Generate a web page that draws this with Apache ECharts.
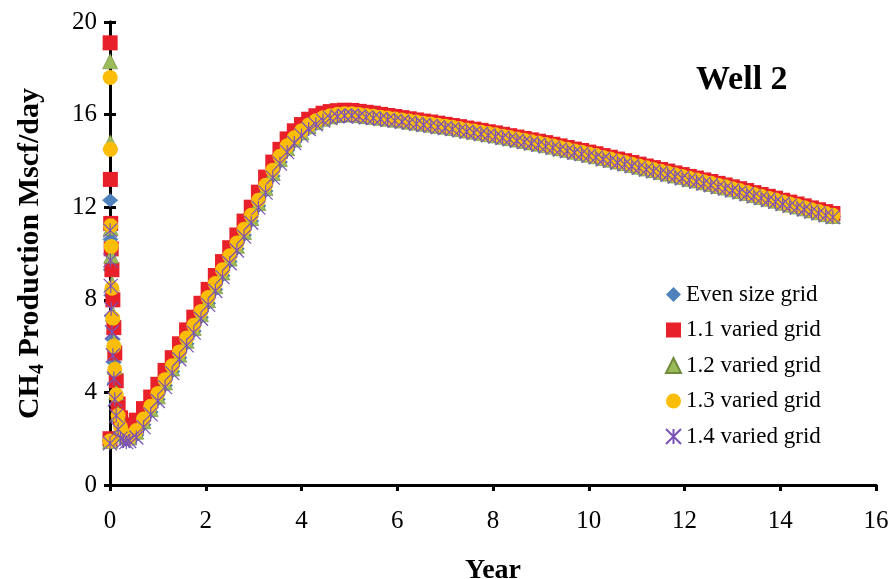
<!DOCTYPE html>
<html>
<head>
<meta charset="utf-8">
<script src="https://cdn.jsdelivr.net/npm/echarts@6/dist/echarts.min.js"></script>
<style>
  html, body { margin: 0; padding: 0; background: #fff; }
  #chart { width: 892px; height: 579px; }
</style>
</head>
<body>
<div id="chart"></div>
<script>
// time in years (dense early steps, then ~55 day steps)
const years = [
  0, 0.003, 0.008, 0.015, 0.025, 0.04, 0.06, 0.08, 0.1, 0.13, 0.17, 0.22, 0.28, 0.34,
  0.40, 0.55, 0.70, 0.85, 1.00, 1.15, 1.30, 1.45, 1.60, 1.75, 1.90, 2.05, 2.20, 2.35, 2.50, 2.65,
  2.80, 2.95, 3.10, 3.25, 3.40, 3.55, 3.70, 3.85, 4.00, 4.15, 4.30, 4.45, 4.60, 4.75, 4.90,
  5.05, 5.20, 5.35, 5.50, 5.65, 5.80, 5.95, 6.10, 6.25, 6.40, 6.55, 6.70, 6.85, 7.00, 7.15,
  7.30, 7.45, 7.60, 7.75, 7.90, 8.05, 8.20, 8.35, 8.50, 8.65, 8.80, 8.95, 9.10, 9.25, 9.40,
  9.55, 9.70, 9.85, 10.00, 10.15, 10.30, 10.45, 10.60, 10.75, 10.90, 11.05, 11.20, 11.35, 11.50,
  11.65, 11.80, 11.95, 12.10, 12.25, 12.40, 12.55, 12.70, 12.85, 13.00, 13.15, 13.30, 13.45,
  13.60, 13.75, 13.90, 14.05, 14.20, 14.35, 14.50, 14.65, 14.80, 14.95, 15.10
];

const evenGrid = [
  1.9, 12.3, 10.6, 9.3, 8.2, 7.3, 6.3, 5.3, 4.4, 3.5, 2.8, 2.3, 2.05, 1.95,
  1.95, 2.15, 2.6, 3.15, 3.7, 4.3, 4.9, 5.5, 6.1, 6.65, 7.25, 7.85, 8.45, 9.05, 9.65, 10.2,
  10.8, 11.4, 12.05, 12.7, 13.35, 13.95, 14.45, 14.83, 15.15, 15.42, 15.62, 15.77, 15.88, 15.95, 15.98,
  15.98, 15.94, 15.9, 15.87, 15.83, 15.79, 15.75, 15.71, 15.66, 15.62, 15.57, 15.53, 15.48, 15.44, 15.39,
  15.34, 15.28, 15.23, 15.18, 15.12, 15.07, 15.01, 14.95, 14.89, 14.83, 14.77, 14.71, 14.65, 14.58, 14.51,
  14.44, 14.37, 14.31, 14.24, 14.17, 14.09, 14.02, 13.94, 13.87, 13.79, 13.72, 13.64, 13.57, 13.49,
  13.42, 13.34, 13.27, 13.19, 13.12, 13.04, 12.97, 12.89, 12.82, 12.74, 12.66, 12.58, 12.49,
  12.41, 12.33, 12.25, 12.16, 12.08, 12.0, 11.92, 11.83, 11.75, 11.67, 11.59
];

const varied11 = [
  2.0, 19.1, 13.2, 11.3, 10.2, 9.3, 8.0, 6.8, 5.7, 4.5, 3.5, 2.9, 2.6, 2.5,
  2.55, 2.8, 3.3, 3.8, 4.35, 4.95, 5.5, 6.1, 6.7, 7.25, 7.85, 8.45, 9.05, 9.65, 10.25, 10.8,
  11.4, 12.0, 12.65, 13.3, 13.95, 14.5, 14.95, 15.3, 15.57, 15.8, 15.95, 16.06, 16.13, 16.17, 16.19,
  16.18, 16.14, 16.1, 16.06, 16.01, 15.96, 15.92, 15.87, 15.82, 15.77, 15.72, 15.68, 15.63, 15.58, 15.53,
  15.48, 15.42, 15.37, 15.32, 15.26, 15.21, 15.15, 15.09, 15.03, 14.97, 14.91, 14.85, 14.79, 14.72, 14.65,
  14.58, 14.51, 14.45, 14.38, 14.31, 14.23, 14.16, 14.08, 14.01, 13.93, 13.86, 13.78, 13.71, 13.63,
  13.56, 13.48, 13.41, 13.33, 13.26, 13.18, 13.11, 13.03, 12.96, 12.88, 12.8, 12.72, 12.63,
  12.55, 12.47, 12.39, 12.3, 12.22, 12.14, 12.06, 11.97, 11.89, 11.81, 11.73
];

const varied12 = [
  1.9, 18.3, 14.8, 11.1, 9.9, 8.7, 7.4, 6.2, 5.1, 4.0, 3.1, 2.5, 2.2, 2.1,
  2.05, 2.3, 2.75, 3.28, 3.83, 4.43, 5.03, 5.63, 6.23, 6.78, 7.38, 7.98, 8.58, 9.18, 9.78, 10.33,
  10.93, 11.53, 12.18, 12.83, 13.48, 14.08, 14.55, 14.92, 15.23, 15.49, 15.68, 15.82, 15.92, 15.98, 16.01,
  16.01, 15.97, 15.93, 15.9, 15.86, 15.82, 15.78, 15.74, 15.69, 15.65, 15.6, 15.56, 15.51, 15.47, 15.42,
  15.37, 15.31, 15.26, 15.21, 15.15, 15.1, 15.04, 14.98, 14.92, 14.86, 14.8, 14.74, 14.68, 14.61, 14.54,
  14.47, 14.4, 14.34, 14.27, 14.2, 14.12, 14.05, 13.97, 13.9, 13.82, 13.75, 13.67, 13.6, 13.52,
  13.45, 13.37, 13.3, 13.22, 13.15, 13.07, 13.0, 12.92, 12.85, 12.77, 12.69, 12.61, 12.52,
  12.44, 12.36, 12.28, 12.19, 12.11, 12.03, 11.95, 11.86, 11.78, 11.7, 11.62
];

const varied13 = [
  1.9, 17.6, 14.5, 11.2, 10.3, 8.5, 7.2, 6.0, 5.0, 3.9, 3.0, 2.5, 2.2, 2.1,
  2.05, 2.35, 2.85, 3.4, 3.95, 4.55, 5.15, 5.75, 6.35, 6.9, 7.5, 8.1, 8.7, 9.3, 9.9, 10.45,
  11.05, 11.65, 12.3, 12.95, 13.6, 14.2, 14.65, 15.0, 15.3, 15.55, 15.73, 15.86, 15.95, 16.01, 16.04,
  16.04, 16.0, 15.96, 15.93, 15.89, 15.85, 15.81, 15.77, 15.72, 15.68, 15.63, 15.59, 15.54, 15.5, 15.45,
  15.4, 15.34, 15.29, 15.24, 15.18, 15.13, 15.07, 15.01, 14.95, 14.89, 14.83, 14.77, 14.71, 14.64, 14.57,
  14.5, 14.43, 14.37, 14.3, 14.23, 14.15, 14.08, 14.0, 13.93, 13.85, 13.78, 13.7, 13.63, 13.55,
  13.48, 13.4, 13.33, 13.25, 13.18, 13.1, 13.03, 12.95, 12.88, 12.8, 12.72, 12.64, 12.55,
  12.47, 12.39, 12.31, 12.22, 12.14, 12.06, 11.98, 11.89, 11.81, 11.73, 11.65
];

const varied14 = [
  1.8, 11.0, 9.7, 8.6, 7.6, 6.6, 5.6, 4.6, 3.7, 3.0, 2.4, 2.0, 1.9, 1.85,
  1.9, 2.05, 2.5, 3.05, 3.63, 4.23, 4.83, 5.43, 6.03, 6.58, 7.18, 7.78, 8.38, 8.98, 9.58, 10.13,
  10.73, 11.33, 11.98, 12.63, 13.28, 13.88, 14.38, 14.77, 15.1, 15.38, 15.58, 15.74, 15.85, 15.92, 15.95,
  15.96, 15.92, 15.88, 15.85, 15.81, 15.77, 15.73, 15.69, 15.64, 15.6, 15.55, 15.51, 15.46, 15.42, 15.37,
  15.32, 15.26, 15.21, 15.16, 15.1, 15.05, 14.99, 14.93, 14.87, 14.81, 14.75, 14.69, 14.63, 14.56, 14.49,
  14.42, 14.35, 14.29, 14.22, 14.15, 14.07, 14.0, 13.92, 13.85, 13.77, 13.7, 13.62, 13.55, 13.47,
  13.4, 13.32, 13.25, 13.17, 13.1, 13.02, 12.95, 12.87, 12.8, 12.72, 12.64, 12.56, 12.47,
  12.39, 12.31, 12.23, 12.14, 12.06, 11.98, 11.9, 11.81, 11.73, 11.65, 11.57
];

const seriesNames = ['Even size grid', '1.1 varied grid', '1.2 varied grid', '1.3 varied grid', '1.4 varied grid'];

const serif = 'Liberation Serif';

function pairs(values) {
  return years.map((t, i) => [t, values[i]]);
}

const chart = echarts.init(document.getElementById('chart'));

const axisLine = { show: true, lineStyle: { color: '#000', width: 3 } };
const tick = { show: true, inside: false, length: 6, lineStyle: { color: '#000', width: 3 } };

const option = {
  animation: false,
  backgroundColor: '#fff',
  title: {
    text: 'Well 2',
    left: 691,
    top: 58,
    textStyle: { fontFamily: serif, fontSize: 34, fontWeight: 'bold', color: '#000' }
  },
  legend: {
    orient: 'vertical',
    left: 660,
    top: 278,
    itemWidth: 15,
    itemHeight: 15,
    itemGap: 12.5,
    textStyle: { fontFamily: serif, fontSize: 23, color: '#000' },
    data: seriesNames
  },
  grid: { left: 110, right: 16, top: 22, bottom: 94, outerBoundsMode: 'none', containLabel: false },
  xAxis: [{
    type: 'value',
    min: 0,
    max: 16,
    interval: 2,
    name: 'Year',
    nameLocation: 'middle',
    nameGap: 72,
    nameTextStyle: { fontFamily: serif, fontSize: 28, fontWeight: 'bold', color: '#000' },
    axisLine: axisLine,
    axisTick: tick,
    axisLabel: { fontFamily: serif, fontSize: 25, color: '#000', margin: 24 },
    splitLine: { show: false }
  }, {
    type: 'value',
    position: 'top',
    min: 0,
    max: 16,
    interval: 2,
    axisLine: axisLine,
    axisTick: { show: false },
    axisLabel: { show: false },
    splitLine: { show: false }
  }],
  yAxis: [{
    type: 'value',
    min: 0,
    max: 20,
    interval: 4,
    name: '{n|CH}{s|4}{n| Production Mscf/day}',
    nameLocation: 'middle',
    nameGap: 62,
    nameTextStyle: {
      rich: {
        n: { fontFamily: serif, fontSize: 30, fontWeight: 'bold', color: '#000', lineHeight: 36, verticalAlign: 'middle' },
        s: { fontFamily: serif, fontSize: 20, fontWeight: 'bold', color: '#000', lineHeight: 36, verticalAlign: 'bottom' }
      }
    },
    axisLine: axisLine,
    axisTick: tick,
    axisLabel: { fontFamily: serif, fontSize: 25, color: '#000', margin: 13 },
    splitLine: { show: false }
  }, {
    type: 'value',
    position: 'right',
    min: 0,
    max: 20,
    interval: 4,
    axisLine: axisLine,
    axisTick: tick,
    axisLabel: { show: false },
    splitLine: { show: false }
  }],
  series: [{
    name: seriesNames[0],
    type: 'scatter',
    symbol: 'diamond',
    symbolSize: [16, 14],
    itemStyle: { color: '#4f81bd', opacity: 1 },
    data: pairs(evenGrid)
  }, {
    name: seriesNames[1],
    type: 'scatter',
    symbol: 'rect',
    symbolSize: 15,
    itemStyle: { color: '#e8202a', opacity: 1 },
    data: pairs(varied11)
  }, {
    name: seriesNames[2],
    type: 'scatter',
    symbol: 'triangle',
    symbolSize: 15,
    itemStyle: { color: '#9bbb59', borderColor: '#6f8a3a', borderWidth: 0.6, opacity: 1 },
    data: pairs(varied12)
  }, {
    name: seriesNames[3],
    type: 'scatter',
    symbol: 'circle',
    symbolSize: 15,
    itemStyle: { color: '#fbbd08', opacity: 1 },
    data: pairs(varied13)
  }, {
    name: seriesNames[4],
    type: 'scatter',
    symbol: 'path://M0,0L10,10M10,0L0,10M5,0L5,10',
    symbolSize: 14,
    itemStyle: { color: 'transparent', borderColor: '#7a52b8', borderWidth: 1.2, opacity: 1 },
    data: pairs(varied14)
  }]
};

chart.setOption(option);
</script>
</body>
</html>
